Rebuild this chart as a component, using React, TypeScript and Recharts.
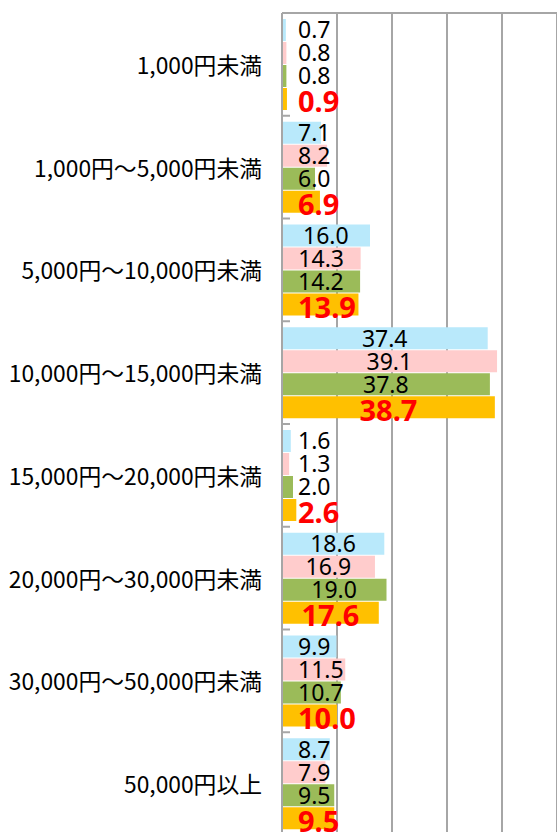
import { Bar, BarChart, CartesianGrid, LabelList, XAxis, YAxis } from 'recharts';

const categories = [
  '1,000円未満',
  '1,000円～5,000円未満',
  '5,000円～10,000円未満',
  '10,000円～15,000円未満',
  '15,000円～20,000円未満',
  '20,000円～30,000円未満',
  '30,000円～50,000円未満',
  '50,000円以上',
];

const seriesA = [0.7, 7.1, 16.0, 37.4, 1.6, 18.6, 9.9, 8.7];
const seriesB = [0.8, 8.2, 14.3, 39.1, 1.3, 16.9, 11.5, 7.9];
const seriesC = [0.8, 6.0, 14.2, 37.8, 2.0, 19.0, 10.7, 9.5];
const seriesD = [0.9, 6.9, 13.9, 38.7, 2.6, 17.6, 10.0, 9.5];

const xTicks = [0, 10, 20, 30, 40, 50];

const data = categories.map((name, i) => ({
  name,
  a: seriesA[i],
  b: seriesB[i],
  c: seriesC[i],
  d: seriesD[i],
}));

const CHART_W = 600;
const CHART_H = 860;
const MARGIN = { top: 12, right: 43, bottom: 25, left: 0 };
const AXIS_W = 282;
const BAND = (CHART_H - MARGIN.top - 1 - MARGIN.bottom) / categories.length;

const GRID = '#a6a6a6';
const COLORS = { a: '#b9e9fb', b: '#ffcccc', c: '#9bbb59', d: '#ffc000' };

function textWidth(s: string, fs: number) {
  let w = 0;
  for (const ch of s) w += ch === '.' ? 0.28 : 0.572;
  return w * fs;
}

const makeLabel = (bold: boolean) => (props: any) => {
  const { x, y, width, height, value } = props;
  const fs = bold ? 29 : 23;
  const text = Number(value).toFixed(1);
  const w = textWidth(text, fs);
  let left = x + width / 2 - w / 2;
  if (left < x + 16) left = x + 16;
  return (
    <text
      x={left}
      y={y + height / 2 + 0.36 * fs + (bold ? 3 : 0)}
      fontSize={fs}
      fontWeight={bold ? 700 : 400}
      fontFamily="'Noto Sans', sans-serif"
      fill={bold ? '#ff0000' : '#000000'}
      textAnchor="start"
    >
      {text}
    </text>
  );
};

function CategoryTick(props: any) {
  const { x, y, payload } = props;
  const axisX = x + 20;
  return (
    <g>
      <text
        x={x}
        y={y}
        textAnchor="end"
        dominantBaseline="central"
        fontSize={22.8}
        fontFamily="'Noto Sans CJK JP', sans-serif"
        fill="#000000"
      >
        {payload.value}
      </text>
      <line x1={axisX} x2={axisX + 8} y1={y + BAND / 2} y2={y + BAND / 2} stroke={GRID} strokeWidth={2} />
    </g>
  );
}

const EmptyTick = () => <g />;

export default function App() {
  return (
    <div
      style={{
        position: 'absolute',
        left: 0,
        top: 0,
        width: 557,
        height: 832,
        overflow: 'hidden',
        background: '#ffffff',
      }}
    >
      <BarChart
        width={CHART_W}
        height={CHART_H}
        data={data}
        layout="vertical"
        margin={MARGIN}
        barSize={22}
        barGap={1}
      >
        <CartesianGrid horizontal={false} stroke={GRID} strokeWidth={2} />
        <XAxis
          type="number"
          orientation="top"
          domain={[0, 50]}
          ticks={xTicks}
          interval={0}
          height={1}
          tick={<EmptyTick />}
          tickLine={false}
          axisLine={{ stroke: GRID, strokeWidth: 2 }}
        />
        <YAxis
          type="category"
          dataKey="name"
          width={AXIS_W}
          interval={0}
          tickSize={0}
          tickMargin={20}
          tickLine={false}
          axisLine={{ stroke: GRID, strokeWidth: 2 }}
          tick={<CategoryTick />}
        />
        <Bar dataKey="a" fill={COLORS.a} isAnimationActive={false}>
          <LabelList dataKey="a" content={makeLabel(false)} />
        </Bar>
        <Bar dataKey="b" fill={COLORS.b} isAnimationActive={false}>
          <LabelList dataKey="b" content={makeLabel(false)} />
        </Bar>
        <Bar dataKey="c" fill={COLORS.c} isAnimationActive={false}>
          <LabelList dataKey="c" content={makeLabel(false)} />
        </Bar>
        <Bar dataKey="d" fill={COLORS.d} isAnimationActive={false}>
          <LabelList dataKey="d" content={makeLabel(true)} />
        </Bar>
      </BarChart>
    </div>
  );
}
